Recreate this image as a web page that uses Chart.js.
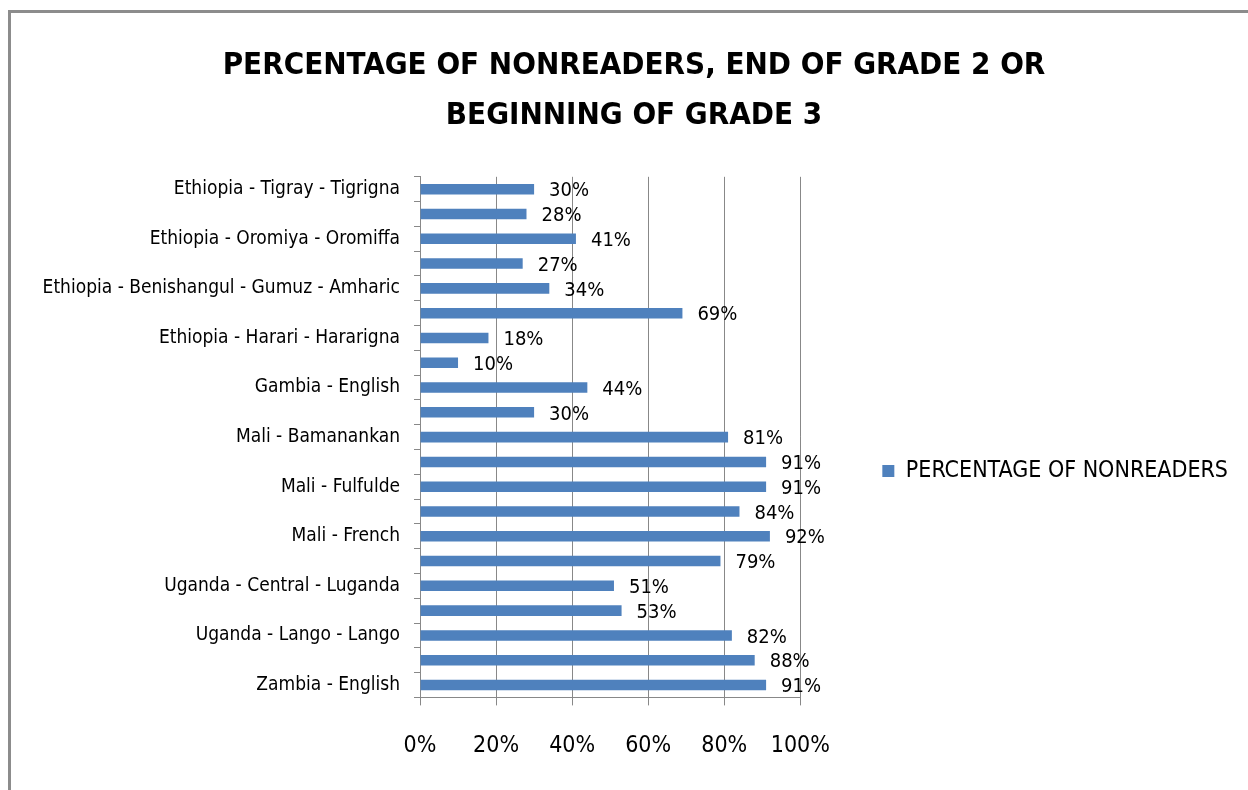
<!DOCTYPE html>
<html>
<head>
<meta charset="utf-8">
<script src="https://cdn.jsdelivr.net/npm/chart.js@4.4.1/dist/chart.umd.min.js"></script>
<style>
  html, body { margin: 0; padding: 0; background: #fff; }
  #wrap { position: relative; width: 1248px; height: 790px; }
  #frame { position: absolute; left: 8px; top: 10px; width: 1240px; height: 780px;
           border-left: 3px solid #8c8c8c; border-top: 3px solid #8c8c8c; box-sizing: border-box; }
  #chartNonreaders { position: absolute; left: 0; top: 0; }
</style>
</head>
<body>
<div id="wrap">
  <div id="frame"></div>
  <canvas id="chartNonreaders" width="1248" height="790"></canvas>
</div>
<script>
// kategori (baris genap tidak tampil di gambar asli, namanya perkiraan)
const categories = [
  'Ethiopia - Tigray - Tigrigna',
  'Ethiopia - Amhara - Amharic',
  'Ethiopia - Oromiya - Oromiffa',
  'Ethiopia - SNNPR - Sidaamu Afoo',
  'Ethiopia - Benishangul - Gumuz - Amharic',
  'Ethiopia - Somali - Somali',
  'Ethiopia - Harari - Hararigna',
  'Ethiopia - Addis Ababa - Amharic',
  'Gambia - English',
  'Liberia - English',
  'Mali - Bamanankan',
  'Mali - Bomu',
  'Mali - Fulfulde',
  'Mali - Songhoi',
  'Mali - French',
  'Senegal - Wolof',
  'Uganda - Central - Luganda',
  'Uganda - Central - English',
  'Uganda - Lango - Lango',
  'Zambia - Bemba',
  'Zambia - English'
];

// nilai persentase
const nonreaders = [30, 28, 41, 27, 34, 69, 18, 10, 44, 30, 81, 91, 91, 84, 92, 79, 51, 53, 82, 88, 91];

const xTicks = [0, 20, 40, 60, 80, 100];

const seriesName = 'PERCENTAGE OF NONREADERS';
const titleLines = ['PERCENTAGE OF NONREADERS, END OF GRADE 2 OR', 'BEGINNING OF GRADE 3'];

const fontFam = '"Liberation Sans Narrow", "DejaVu Sans Condensed", "Open Sans", sans-serif';

// plugin untuk label nilai di ujung batang
const valueLabels = {
  id: 'valueLabels',
  afterDatasetsDraw(chart) {
    const ctx = chart.ctx;
    const meta = chart.getDatasetMeta(0);
    ctx.save();
    ctx.font = '20px ' + fontFam;
    ctx.fillStyle = '#000';
    ctx.textBaseline = 'middle';
    ctx.textAlign = 'left';
    meta.data.forEach((bar, i) => {
      ctx.fillText(nonreaders[i] + '%', bar.x + 15, bar.y + 2);
    });
    ctx.restore();
  }
};

const ctx = document.getElementById('chartNonreaders').getContext('2d');
const myChart = new Chart(ctx, {
  type: 'bar',
  data: {
    labels: categories,
    datasets: [{
      label: seriesName,
      data: nonreaders,
      backgroundColor: '#4F81BD',
      borderWidth: 0,
      barPercentage: 0.85,
      categoryPercentage: 0.5
    }]
  },
  options: {
    indexAxis: 'y',
    responsive: false,
    animation: false,
    layout: { padding: { top: 41, right: 10, bottom: 3, left: 30 } },
    plugins: {
      title: {
        display: true,
        text: titleLines,
        color: '#000',
        font: { family: fontFam, size: 31, weight: 'bold', lineHeight: 1.61 },
        padding: { top: 0, bottom: 36 }
      },
      legend: {
        position: 'right',
        align: 'start',
        maxWidth: 400,
        // judul kosong, cuma untuk menurunkan posisi legenda
        title: { display: true, text: '', padding: { top: 0, bottom: 396 } },
        labels: {
          color: '#000',
          font: { family: fontFam, size: 23 },
          boxWidth: 12,
          boxHeight: 12,
          padding: 8
        }
      },
      tooltip: { enabled: false }
    },
    scales: {
      x: {
        min: 0,
        max: 100,
        afterBuildTicks: (scale) => { scale.ticks = xTicks.map(v => ({ value: v })); },
        ticks: {
          callback: (v) => v + '%',
          color: '#000',
          font: { family: fontFam, size: 23 },
          padding: 27
        },
        grid: { color: '#888', tickLength: 8, drawTicks: true },
        border: { color: '#888' }
      },
      y: {
        afterFit: (scale) => { scale.width = 390; },
        ticks: {
          callback: (v, i) => (i % 2 === 0 ? categories[i] : ''),
          autoSkip: false,
          color: '#000',
          font: { family: fontFam, size: 19 },
          padding: 14
        },
        grid: { drawOnChartArea: false, color: '#888', tickLength: 6 },
        border: { color: '#888' }
      },
      // sumbu kosong, cuma buat jarak antara plot dan legenda
      gap: {
        type: 'linear',
        axis: 'y',
        position: 'right',
        grid: { display: false },
        border: { display: false },
        ticks: { display: false },
        afterFit: (scale) => { scale.width = 74; }
      }
    }
  },
  plugins: [valueLabels]
});
</script>
</body>
</html>
